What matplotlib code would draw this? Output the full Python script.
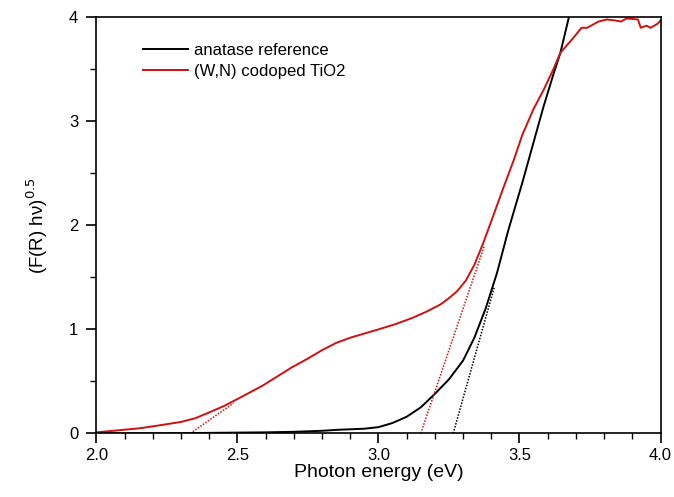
import numpy as np
import matplotlib.pyplot as plt
from matplotlib.ticker import MultipleLocator

plt.rcParams['font.family'] = ['Liberation Sans', 'DejaVu Sans']

# anatase reference
e_ref = [2.0, 2.2, 2.4, 2.6, 2.7, 2.8, 2.86, 2.95, 3.0, 3.05, 3.1, 3.15, 3.2, 3.25, 3.3, 3.34,
         3.38, 3.42, 3.46, 3.51, 3.55, 3.585, 3.62, 3.645, 3.675]
f_ref = [0.0, 0.0, 0.005, 0.01, 0.015, 0.025, 0.035, 0.045, 0.06, 0.1, 0.16, 0.25, 0.38, 0.52, 0.7, 0.92,
         1.2, 1.54, 1.95, 2.41, 2.8, 3.14, 3.45, 3.66, 4.0]

# (W,N) codoped TiO2
e_wn = [2.0, 2.08, 2.156, 2.23, 2.30, 2.35, 2.39, 2.45, 2.5, 2.59, 2.69, 2.75, 2.80, 2.85, 2.9, 2.95,
        3.0, 3.06, 3.12, 3.17, 3.22, 3.25, 3.28, 3.31, 3.34, 3.37, 3.40, 3.44, 3.48, 3.51, 3.55,
        3.585, 3.62, 3.645, 3.69, 3.72, 3.74, 3.78, 3.81, 3.84, 3.86, 3.88, 3.92, 3.93, 3.95,
        3.965, 3.99, 4.0]
f_wn = [0.01, 0.03, 0.05, 0.08, 0.11, 0.145, 0.19, 0.26, 0.33, 0.46, 0.63, 0.72, 0.8, 0.87, 0.92, 0.96,
        1.0, 1.05, 1.11, 1.17, 1.24, 1.3, 1.37, 1.47, 1.62, 1.82, 2.04, 2.34, 2.63, 2.87, 3.12,
        3.3, 3.5, 3.66, 3.8, 3.9, 3.9, 3.96, 3.98, 3.97, 3.96, 3.99, 3.98, 3.9, 3.92,
        3.9, 3.94, 3.97]

# tangent lines
tan_ref_x = [3.265, 3.41]
tan_ref_y = [0.0, 1.4]
tan_wn_x = [3.15, 3.375]
tan_wn_y = [0.0, 1.8]
tan_tail_x = [2.333, 2.486]
tan_tail_y = [0.0, 0.29]

fig, ax = plt.subplots(figsize=(6.74, 4.97), dpi=100)
ax.plot(e_ref, f_ref, color='black', lw=1.4, label='anatase reference')
ax.plot(e_wn, f_wn, color='#d01010', lw=1.4, label='(W,N) codoped TiO2')
ax.plot(tan_ref_x, tan_ref_y, color='black', lw=1.1, ls=(0, (1, 1)))
ax.plot(tan_wn_x, tan_wn_y, color='#d01010', lw=1.1, ls=(0, (1, 1)))
ax.plot(tan_tail_x, tan_tail_y, color='#d01010', lw=1.1, ls=(0, (1, 1)))

ax.set_xlim(2.0, 4.0)
ax.set_ylim(0, 4)
ax.xaxis.set_major_locator(MultipleLocator(0.5))
ax.xaxis.set_minor_locator(MultipleLocator(0.1))
ax.yaxis.set_major_locator(MultipleLocator(1))
ax.yaxis.set_minor_locator(MultipleLocator(0.5))
ax.xaxis.set_major_formatter(plt.FormatStrFormatter('%.1f'))
ax.tick_params(which='major', direction='out', length=7, width=1.2, labelsize=12)
ax.tick_params(axis='y', which='major', pad=6)
ax.tick_params(which='minor', direction='out', length=4, width=1.0)
for s in ax.spines.values():
    s.set_linewidth(1.2)
ax.set_xlabel('Photon energy (eV)', fontsize=14, labelpad=1)
ax.set_ylabel('(F(R) hν)$^{0.5}$', fontsize=13.5, labelpad=14)
ax.legend(loc='upper left', frameon=False, fontsize=12, handlelength=2.7,
          borderaxespad=0.0, bbox_to_anchor=(0.07, 0.955), labelspacing=0.35, handletextpad=0.4)

plt.subplots_adjust(left=0.143, right=0.98, top=0.965, bottom=0.128)
plt.savefig('out.png', dpi=100)
